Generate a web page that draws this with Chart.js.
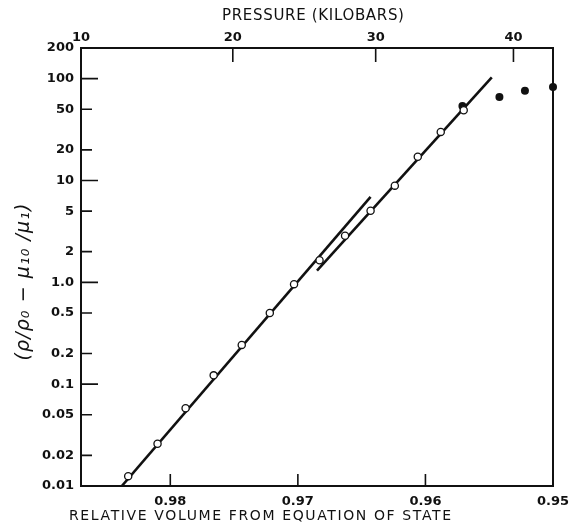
<!DOCTYPE html>
<html>
<head>
<meta charset="utf-8">
<script src="https://cdn.jsdelivr.net/npm/chart.js@4"></script>
<style>
    html, body { margin: 0; padding: 0; background: #fff; }
</style>
</head>
<body>
<canvas id="chart" width="570" height="527"></canvas>
<script>
// measured points (relative volume vs. log quantity)
const openVolume = [0.9833, 0.9810, 0.9788, 0.9766, 0.9744, 0.9722, 0.9703, 0.9683, 0.9663, 0.9643, 0.9624, 0.9606, 0.9588, 0.9570];
const openValue = [0.0125, 0.026, 0.058, 0.122, 0.243, 0.50, 0.96, 1.65, 2.87, 5.05, 8.9, 17.1, 30.0, 49];
const filledVolume = [0.9571, 0.9542, 0.9522, 0.9500];
const filledValue = [54, 66, 76, 83];

// the two straight fitted lines
const fitLowVolume = [0.9838, 0.9643];
const fitLowValue = [0.01, 6.9];
const fitHighVolume = [0.9685, 0.9548];
const fitHighValue = [1.30, 103];

// axes
const volumeTicks = [0.98, 0.97, 0.96, 0.95];
const volumeTickLabels = ['0.98', '0.97', '0.96', '0.95'];
const pressureTicks = [10, 20, 30, 40];
const pressureTickVolumes = [0.9870, 0.9751, 0.9639, 0.9531];
const yTicks = [0.01, 0.02, 0.05, 0.1, 0.2, 0.5, 1, 2, 5, 10, 20, 50, 100, 200];
const yTickLabels = ['0.01', '0.02', '0.05', '0.1', '0.2', '0.5', '1.0', '2', '5', '10', '20', '50', '100', '200'];

const ink = '#111';
const tickFont = { family: 'DejaVu Sans', size: 13, weight: 'bold' };

function pairs(xs, ys) {
    return xs.map((x, i) => ({ x: x, y: ys[i] }));
}

// draw a text stretched (letter spacing) to a given width
function fittedText(ctx, text, cx, cy, width, font) {
    ctx.font = font;
    ctx.letterSpacing = '0px';
    const w = ctx.measureText(text).width;
    const sp = (width - w) / (text.length - 1);
    ctx.letterSpacing = sp.toFixed(2) + 'px';
    ctx.textAlign = 'left';
    ctx.textBaseline = 'middle';
    ctx.fillText(text, cx - width / 2, cy);
}

// keep the frame where the paper has it: no extra room for edge labels
function noSidePadding(scale) {
    scale.paddingLeft = 0;
    scale.paddingRight = 0;
}

const paperFrame = {
    id: 'paperFrame',
    afterDraw(chart) {
        const { ctx, chartArea: a, scales } = chart;
        ctx.save();
        ctx.strokeStyle = ink;
        ctx.fillStyle = ink;
        ctx.lineWidth = 2;
        ctx.strokeRect(a.left, a.top, a.right - a.left, a.bottom - a.top);

        // inward tick marks
        ctx.lineWidth = 1.6;
        ctx.beginPath();
        scales.y.ticks.forEach(t => {
            const y = scales.y.getPixelForValue(t.value);
            const lg = Math.log10(t.value);
            const len = Math.abs(lg - Math.round(lg)) < 1e-6 ? 17 : 11;
            ctx.moveTo(a.left, y);
            ctx.lineTo(a.left + len, y);
        });
        scales.x.ticks.forEach(t => {
            const x = scales.x.getPixelForValue(t.value);
            ctx.moveTo(x, a.bottom);
            ctx.lineTo(x, a.bottom - 12);
        });
        scales.x2.ticks.forEach(t => {
            const x = scales.x2.getPixelForValue(t.value);
            ctx.moveTo(x, a.top);
            ctx.lineTo(x, a.top + 14);
        });
        ctx.stroke();

        // axis titles
        fittedText(ctx, 'PRESSURE (KILOBARS)', (a.left + a.right) / 2 - 4, 16, 182, '15px "DejaVu Sans"');
        fittedText(ctx, 'RELATIVE VOLUME FROM EQUATION OF STATE', 260, 516, 382, '14px "DejaVu Sans"');

        ctx.save();
        ctx.translate(24, 282);
        ctx.rotate(-Math.PI / 2);
        fittedText(ctx, '(ρ/ρ₀ − μ₁₀ /μ₁)', 0, 0, 157, 'italic 19px "DejaVu Sans"');
        ctx.restore();

        ctx.restore();
    }
};

const ctx = document.getElementById('chart').getContext('2d');
new Chart(ctx, {
    type: 'scatter',
    data: {
        datasets: [
            {
                label: 'open',
                data: pairs(openVolume, openValue),
                pointRadius: 3.6,
                pointBackgroundColor: '#fff',
                pointBorderColor: ink,
                pointBorderWidth: 1.3,
                clip: false,
                order: 0,
            },
            {
                label: 'filled',
                data: pairs(filledVolume, filledValue),
                pointRadius: 4,
                pointBackgroundColor: ink,
                pointBorderColor: ink,
                pointBorderWidth: 0,
                clip: false,
                order: 0,
            },
            {
                label: 'fit low',
                data: pairs(fitLowVolume, fitLowValue),
                showLine: true,
                borderColor: ink,
                borderWidth: 2.6,
                pointRadius: 0,
                order: 1,
            },
            {
                label: 'fit high',
                data: pairs(fitHighVolume, fitHighValue),
                showLine: true,
                borderColor: ink,
                borderWidth: 2.6,
                pointRadius: 0,
                order: 1,
            }
        ]
    },
    options: {
        responsive: false,
        animation: false,
        devicePixelRatio: 1,
        layout: { padding: { left: 0, top: 0, right: 17, bottom: 0 } },
        plugins: {
            legend: { display: false },
            tooltip: { enabled: false },
        },
        scales: {
            x: {
                type: 'linear',
                position: 'bottom',
                min: 0.95,
                max: 0.987,
                reverse: true,
                grid: { display: false, drawTicks: false },
                border: { display: false },
                afterBuildTicks: scale => { scale.ticks = volumeTicks.map(v => ({ value: v })); },
                afterFit: scale => { scale.height = 41; noSidePadding(scale); },
                ticks: {
                    autoSkip: false,
                    maxRotation: 0,
                    padding: 8,
                    color: ink,
                    font: tickFont,
                    callback: (v, i) => volumeTickLabels[i],
                },
            },
            x2: {
                type: 'linear',
                position: 'top',
                min: 0.95,
                max: 0.987,
                reverse: true,
                grid: { display: false, drawTicks: false },
                border: { display: false },
                afterBuildTicks: scale => { scale.ticks = pressureTickVolumes.map(v => ({ value: v })); },
                afterFit: scale => { scale.height = 48; noSidePadding(scale); },
                ticks: {
                    autoSkip: false,
                    maxRotation: 0,
                    padding: 3,
                    color: ink,
                    font: tickFont,
                    callback: (v, i) => String(pressureTicks[i]),
                },
            },
            y: {
                type: 'logarithmic',
                position: 'left',
                min: 0.01,
                max: 200,
                grid: { display: false, drawTicks: false },
                border: { display: false },
                afterBuildTicks: scale => { scale.ticks = yTicks.map(v => ({ value: v })); },
                afterFit: scale => { scale.width = 81; scale.paddingTop = 0; scale.paddingBottom = 0; },
                ticks: {
                    autoSkip: false,
                    padding: 7,
                    color: ink,
                    font: tickFont,
                    callback: (v, i) => yTickLabels[i],
                },
            },
        },
    },
    plugins: [paperFrame],
});
</script>
</body>
</html>
